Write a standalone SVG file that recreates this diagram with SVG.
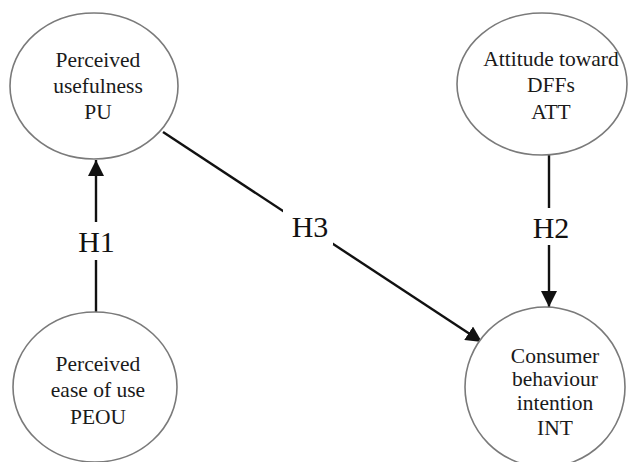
<svg xmlns="http://www.w3.org/2000/svg" width="630" height="462" viewBox="0 0 630 462">
<style>
.node ellipse{fill:#fff;stroke:#7a7a7a;stroke-width:1.6}
.node text{font-family:"Liberation Serif","Times New Roman",serif;font-size:21.5px;fill:#1a1a1a;text-anchor:middle}
.edge line{stroke:#111;stroke-width:2.4}
.lbl rect{fill:#fff}
.lbl text{font-family:"Liberation Serif","Times New Roman",serif;font-size:30px;fill:#111;text-anchor:middle}
</style>
<defs>
<marker id="ah" markerUnits="userSpaceOnUse" markerWidth="16" markerHeight="16" viewBox="0 0 16 16" refX="16" refY="8" orient="auto">
<path d="M0,0 L16,8 L0,16 Z" fill="#111"/>
</marker>
</defs>
<rect width="630" height="462" fill="#fff"/>
<g id="connectors">
<g class="edge" id="e-h1"><line x1="96" y1="312" x2="96" y2="160" marker-end="url(#ah)"/></g>
<g class="edge" id="e-h3"><line x1="163" y1="132" x2="482" y2="342" marker-end="url(#ah)"/></g>
<g class="edge" id="e-h2"><line x1="549" y1="155" x2="549" y2="307" marker-end="url(#ah)"/></g>
<g class="lbl"><rect x="80" y="222" width="34" height="38"/><text x="96.5" y="252">H1</text></g>
<g class="lbl"><rect x="283" y="208" width="50" height="37"/><text x="310" y="237">H3</text></g>
<g class="lbl"><rect x="532" y="208" width="36" height="37"/><text x="551" y="238">H2</text></g>
</g>
<g class="node" id="n-pu">
<ellipse cx="94" cy="86" rx="84" ry="73"/>
<text x="98" y="67">Perceived</text>
<text x="98" y="93">usefulness</text>
<text x="98" y="119">PU</text>
</g>
<g class="node" id="n-att">
<ellipse cx="542" cy="84" rx="85" ry="71"/>
<text x="551" y="66">Attitude toward</text>
<text x="551" y="92">DFFs</text>
<text x="551" y="119">ATT</text>
</g>
<g class="node" id="n-peou">
<ellipse cx="95" cy="387" rx="82" ry="75"/>
<text x="98" y="371">Perceived</text>
<text x="98" y="397">ease of use</text>
<text x="98" y="424">PEOU</text>
</g>
<g class="node" id="n-int">
<ellipse cx="545" cy="387" rx="80" ry="80"/>
<text x="555" y="363">Consumer</text>
<text x="555" y="386">behaviour</text>
<text x="555" y="410">intention</text>
<text x="555" y="435">INT</text>
</g>
</svg>
